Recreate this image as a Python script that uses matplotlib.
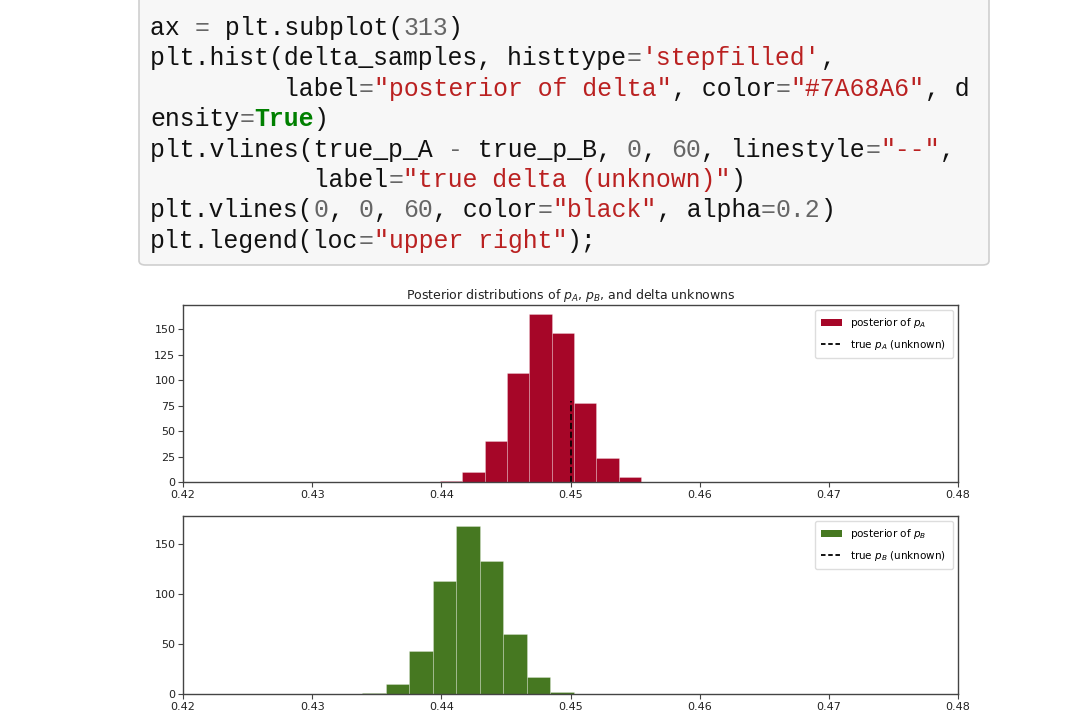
import matplotlib
matplotlib.use("Agg")
import matplotlib.pyplot as plt
from matplotlib.patches import FancyBboxPatch, Patch
from matplotlib.lines import Line2D
import numpy as np

# ---------------- data ----------------
code_lines = [
    [("ax ", "#111111", "normal"), ("=", "#666666", "normal"), (" plt.subplot(", "#111111", "normal"),
     ("313", "#666666", "normal"), (")", "#111111", "normal")],
    [("plt.hist(delta_samples, histtype", "#111111", "normal"), ("=", "#666666", "normal"),
     ("'stepfilled'", "#BA2121", "normal"), (",", "#111111", "normal")],
    [("         label", "#111111", "normal"), ("=", "#666666", "normal"),
     ("\"posterior of delta\"", "#BA2121", "normal"), (", color", "#111111", "normal"),
     ("=", "#666666", "normal"), ("\"#7A68A6\"", "#BA2121", "normal"), (", d", "#111111", "normal")],
    [("ensity", "#111111", "normal"), ("=", "#666666", "normal"), ("True", "#008000", "bold"),
     (")", "#111111", "normal")],
    [("plt.vlines(true_p_A ", "#111111", "normal"), ("-", "#666666", "normal"),
     (" true_p_B, ", "#111111", "normal"), ("0", "#666666", "normal"), (", ", "#111111", "normal"),
     ("60", "#666666", "normal"), (", linestyle", "#111111", "normal"), ("=", "#666666", "normal"),
     ("\"--\"", "#BA2121", "normal"), (",", "#111111", "normal")],
    [("           label", "#111111", "normal"), ("=", "#666666", "normal"),
     ("\"true delta (unknown)\"", "#BA2121", "normal"), (")", "#111111", "normal")],
    [("plt.vlines(", "#111111", "normal"), ("0", "#666666", "normal"), (", ", "#111111", "normal"),
     ("0", "#666666", "normal"), (", ", "#111111", "normal"), ("60", "#666666", "normal"),
     (", color", "#111111", "normal"), ("=", "#666666", "normal"), ("\"black\"", "#BA2121", "normal"),
     (", alpha", "#111111", "normal"), ("=", "#666666", "normal"), ("0.2", "#666666", "normal"),
     (")", "#111111", "normal")],
    [("plt.legend(loc", "#111111", "normal"), ("=", "#666666", "normal"),
     ("\"upper right\"", "#BA2121", "normal"), (");", "#111111", "normal")],
]

title = "Posterior distributions of $p_A$, $p_B$, and delta unknowns"

a_edges = [0.4399, 0.44163, 0.44336, 0.44509, 0.44682, 0.44855, 0.45028, 0.45201, 0.45374, 0.45547]
a_heights = [1.3, 9.8, 40.5, 106.7, 165.5, 146.5, 77.3, 23.2, 4.9]
true_p_A = 0.45
true_line_top = 80

b_edges = [0.43387, 0.43569, 0.43751, 0.43933, 0.44115, 0.44297, 0.44479, 0.44661, 0.44843, 0.45025]
b_heights = [1.3, 9.9, 43.0, 113.0, 168.5, 133.0, 60.6, 16.6, 2.0]

x_ticks = [0.42, 0.43, 0.44, 0.45, 0.46, 0.47, 0.48]
a_yticks = [0, 25, 50, 75, 100, 125, 150]
b_yticks = [0, 50, 100, 150]

# ---------------- figure ----------------
W, H = 1080, 722
fig = plt.figure(figsize=(W / 100, H / 100), dpi=100)
fig.patch.set_facecolor("white")

# code cell box
box = FancyBboxPatch((139 / W, 1 - 265 / H), (989 - 139) / W, (265 + 20) / H,
                     boxstyle="round,pad=0,rounding_size=0.006",
                     transform=fig.transFigure, facecolor="#f7f7f7",
                     edgecolor="#cfcfcf", linewidth=1.2, zorder=0)
fig.patches.append(box)

x0 = 150.0
char_w = 14.9
y0 = 35.0
line_h = 30.4
fs_code = char_w / 0.6 * 72 / 100
for i, segs in enumerate(code_lines):
    col = 0
    for txt, color, weight in segs:
        fig.text((x0 + col * char_w) / W, 1 - (y0 + i * line_h) / H, txt,
                 family="Liberation Mono", fontsize=fs_code, color=color,
                 weight=weight, ha="left", va="baseline")
        col += len(txt)

# axes
spine_c = "#444444"
tick_fs = 8


def style(ax):
    for s in ax.spines.values():
        s.set_color(spine_c)
        s.set_linewidth(1.0)
    ax.tick_params(colors=spine_c, labelcolor="#222222", labelsize=tick_fs,
                   length=3.5, width=0.8, pad=2)


def make_legend(ax, color, lab1, lab2):
    hs = [Patch(facecolor=color, edgecolor="none"),
          Line2D([], [], linestyle=(0, (2.5, 1.5)), color="black", linewidth=1.3)]
    ax.legend(hs, [lab1, lab2], loc="upper right", fontsize=7.5, borderpad=0.6,
              labelspacing=0.7, framealpha=1, edgecolor="#dddddd", fancybox=True,
              handlelength=2.0)


ax1 = fig.add_axes([183 / W, 1 - 482 / H, 775 / W, 177 / H])
ax1.bar(a_edges[:-1], a_heights, width=np.diff(a_edges), align="edge",
        color="#A60628", edgecolor=(1, 1, 1, 0.3), linewidth=0.6)
ax1.vlines(true_p_A, 0, true_line_top, linestyle="--", color="black", linewidth=1.2)
ax1.set_xlim(0.42, 0.48)
ax1.set_ylim(0, 174)
ax1.set_xticks(x_ticks)
ax1.set_xticklabels([f"{t:.2f}" for t in x_ticks])
ax1.set_yticks(a_yticks)
style(ax1)
ax1.set_title(title, fontsize=9, pad=4, color="#222222")
make_legend(ax1, "#A60628", "posterior of $p_A$", "true $p_A$ (unknown)")

ax2 = fig.add_axes([183 / W, 1 - 694 / H, 775 / W, 178 / H])
ax2.bar(b_edges[:-1], b_heights, width=np.diff(b_edges), align="edge",
        color="#467821", edgecolor=(1, 1, 1, 0.3), linewidth=0.6)
ax2.set_xlim(0.42, 0.48)
ax2.set_ylim(0, 178.5)
ax2.set_xticks(x_ticks)
ax2.set_xticklabels([f"{t:.2f}" for t in x_ticks])
ax2.set_yticks(b_yticks)
style(ax2)
make_legend(ax2, "#467821", "posterior of $p_B$", "true $p_B$ (unknown)")

fig.savefig("out.png", dpi=100)
